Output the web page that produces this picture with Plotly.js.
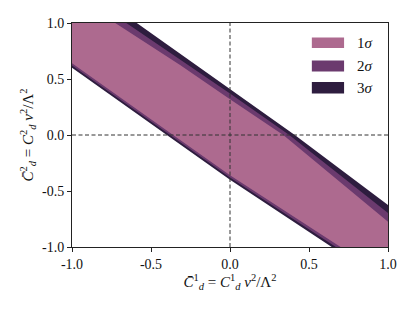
<!DOCTYPE html>
<html>
<head>
<meta charset="utf-8">
<script src="https://cdn.plot.ly/plotly-3.0.1.min.js"></script>
<style>html,body{margin:0;padding:0;background:#fff;}#chart{width:415px;height:311px;}</style>
</head>
<body>
<div id="chart"></div>
<script>
// Band edges (upper and lower boundary of each confidence region)
const sigmaLabels = ["1σ", "2σ", "3σ"];
const sigmaColors = ["#ad6a8f", "#6b3a6e", "#2e1d3f"];

const upper1X = [-1.0, -0.728, -0.316, 0.0, 0.337, 1.0];
const upper1Y = [1.25, 1.0, 0.625, 0.32, 0.0, -0.774];
const lower1X = [-1.0, -0.36, 0.0, 0.70, 1.0];
const lower1Y = [0.64, 0.0, -0.36, -1.0, -1.27];

const upper2X = [-1.0, -0.654, 0.0, 0.375, 1.0];
const upper2Y = [1.33, 1.0, 0.37, 0.0, -0.696];
const lower2X = [-1.0, -0.38, 0.0, 0.67, 1.0];
const lower2Y = [0.62, 0.0, -0.38, -1.0, -1.31];

const upper3X = [-1.0, -0.59, 0.0, 0.41, 1.0];
const upper3Y = [1.41, 1.0, 0.41, 0.0, -0.625];
const lower3X = [-1.0, -0.40, 0.0, 0.644, 1.0];
const lower3Y = [0.60, 0.0, -0.40, -1.0, -1.36];

const xTicks = [-1.0, -0.5, 0.0, 0.5, 1.0];
const yTicks = [-1.0, -0.5, 0.0, 0.5, 1.0];
const tickText = ["-1.0", "-0.5", "0.0", "0.5", "1.0"];

function band(ux, uy, lx, ly, color, name) {
  const xs = ux.concat(lx.slice().reverse());
  const ys = uy.concat(ly.slice().reverse());
  xs.push(ux[0]); ys.push(uy[0]);
  return {x: xs, y: ys, type: "scatter", mode: "lines", fill: "toself",
          fillcolor: color, line: {width: 0, color: color}, name: name,
          showlegend: false, hoverinfo: "skip"};
}

const traces = [
  band(upper3X, upper3Y, lower3X, lower3Y, sigmaColors[2], sigmaLabels[2]),
  band(upper2X, upper2Y, lower2X, lower2Y, sigmaColors[1], sigmaLabels[1]),
  band(upper1X, upper1Y, lower1X, lower1Y, sigmaColors[0], sigmaLabels[0])
];

const font = {family: "Liberation Serif", color: "#111"};

// legend drawn as patches + labels
const legY = [[0.888, 0.935], [0.783, 0.833], [0.685, 0.737]];
const shapes = [
  {type: "line", xref: "x", yref: "paper", x0: 0, x1: 0, y0: 0, y1: 1,
   line: {color: "#333", width: 1, dash: "4px,2.5px"}, layer: "above"},
  {type: "line", xref: "paper", yref: "y", x0: 0, x1: 1, y0: 0, y1: 0,
   line: {color: "#333", width: 1, dash: "4px,2.5px"}, layer: "above"}
];
const annotations = [];
for (let i = 0; i < 3; i++) {
  shapes.push({type: "rect", xref: "paper", yref: "paper", x0: 0.759, x1: 0.861,
    y0: legY[i][0], y1: legY[i][1], fillcolor: sigmaColors[i], line: {width: 0}, layer: "above"});
  annotations.push({xref: "paper", yref: "paper", x: 0.895, y: (legY[i][0] + legY[i][1]) / 2,
    xanchor: "left", yanchor: "middle", showarrow: false,
    text: sigmaLabels[i].replace("σ", "<i>σ</i>"), font: Object.assign({size: 15}, font)});
}

const axisCommon = {
  range: [-1, 1], showgrid: false, zeroline: false, showline: true, mirror: true,
  linecolor: "#222", linewidth: 1, ticks: "outside", ticklen: 4, tickwidth: 1,
  tickcolor: "#222", tickfont: Object.assign({size: 14}, font), fixedrange: true
};

const layout = {
  width: 415, height: 311,
  margin: {l: 72, r: 27, t: 23, b: 64},
  paper_bgcolor: "#fff", plot_bgcolor: "#fff",
  showlegend: false,
  font: {family: "Liberation Serif"},
  xaxis: Object.assign({}, axisCommon, {tickvals: xTicks, ticktext: tickText,
    title: {text: "<i>C̄</i><sup>1</sup><sub><i>d</i></sub> = <i>C</i><sup>1</sup><sub><i>d</i></sub> <i>v</i><sup>2</sup>/Λ<sup>2</sup>",
            font: Object.assign({size: 15}, font), standoff: 3}}),
  yaxis: Object.assign({}, axisCommon, {tickvals: yTicks, ticktext: tickText,
    title: {text: "<i>C̄</i><sup>2</sup><sub><i>d</i></sub> = <i>C</i><sup>2</sup><sub><i>d</i></sub> <i>v</i><sup>2</sup>/Λ<sup>2</sup>",
            font: Object.assign({size: 15}, font), standoff: 4}}),
  shapes: shapes,
  annotations: annotations
};

Plotly.newPlot("chart", traces, layout, {staticPlot: true, displayModeBar: false});
</script>
</body>
</html>
